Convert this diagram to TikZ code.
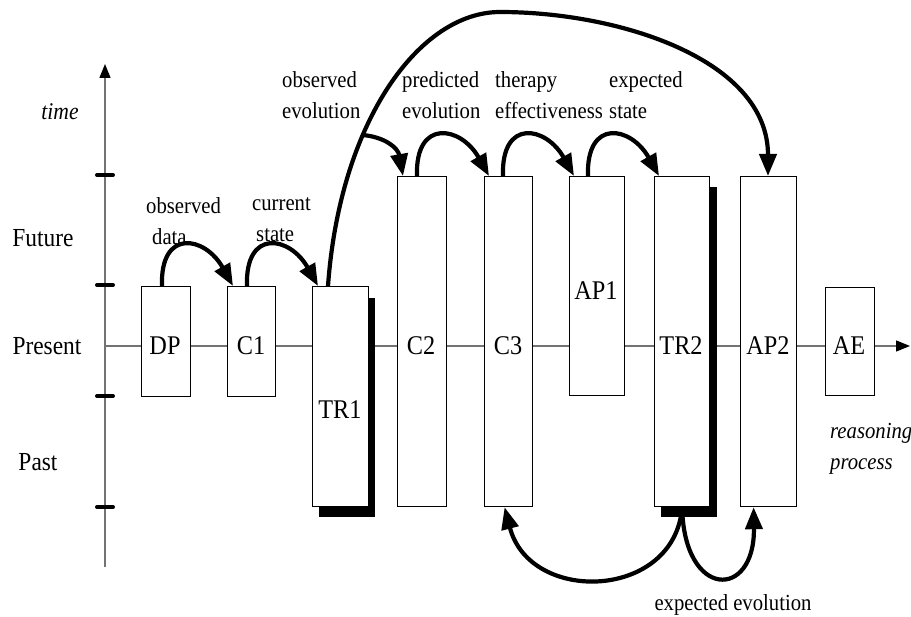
\documentclass[tikz,border=0pt]{standalone}
\usepackage{fontspec}
\setmainfont{Liberation Serif}[FakeStretch=0.9]
\usetikzlibrary{arrows.meta,calc}
\begin{document}
\begin{tikzpicture}[x=1pt,y=-1pt,
  box/.style={draw=black,line width=1.2pt,fill=white,inner sep=0pt,anchor=north west},
  shadowbox/.style={fill=black,draw=none,inner sep=0pt,anchor=north west},
  boxtext/.style={inner sep=0pt,font=\fontsize{27}{30}\selectfont},
  lbl/.style={inner sep=0pt,align=left,anchor=west,font=\fontsize{23}{31}\selectfont},
  axislbl/.style={inner sep=0pt,font=\fontsize{26}{30}\selectfont},
  flow/.style={line width=4.2pt,-{Triangle[length=22pt,width=17pt]}},
  grayline/.style={draw=black!55,line width=1.4pt,-{Triangle[length=14pt,width=11pt,fill=black,color=black]}},
  ticmark/.style={line width=4pt,line cap=round}
]
\useasboundingbox (0,0) rectangle (911,617);
% axes
\coordinate (axb) at (105,567);
\coordinate (axt) at (105,64);
\coordinate (h0) at (105,346);
\coordinate (h1) at (910,346);
\draw[grayline] (axb) -- (axt);
\draw[grayline] (h0) -- (h1);
\foreach \yy in {175,285,396,507} \draw[ticmark] (97,\yy) -- (113,\yy);
% axis labels
\node[axislbl,font=\fontsize{24}{28}\selectfont\itshape] (ltime) at (60,112) {time};
\node[axislbl] (lfut) at (43,238) {Future};
\node[axislbl] (lpres) at (47,346) {Present};
\node[axislbl] (lpast) at (38,462) {Past};
% shadows
\node[shadowbox,minimum width=56pt,minimum height=219pt] (TR1s) at (319,298) {};
\node[shadowbox,minimum width=56pt,minimum height=330pt] (TR2s) at (661,187) {};
% boxes
\node[box,minimum width=49pt,minimum height=110pt] (DP) at (141,286) {};
\node[box,minimum width=48pt,minimum height=110pt] (C1) at (227,286) {};
\node[box,minimum width=56pt,minimum height=220pt] (TR1) at (312,286) {};
\node[box,minimum width=49pt,minimum height=330pt] (C2) at (397,176) {};
\node[box,minimum width=48pt,minimum height=330pt] (C3) at (484,176) {};
\node[box,minimum width=55pt,minimum height=219pt] (AP1) at (569,176) {};
\node[box,minimum width=55pt,minimum height=330pt] (TR2) at (654,176) {};
\node[box,minimum width=56pt,minimum height=330pt] (AP2) at (740,176) {};
\node[box,minimum width=49pt,minimum height=108pt] (AE) at (825,287) {};
% box texts
\node[boxtext] (tDP) at (165,346) {DP};
\node[boxtext] (tC1) at (251,346) {C1};
\node[boxtext] (tTR1) at (340,410) {TR1};
\node[boxtext] (tC2) at (421,346) {C2};
\node[boxtext] (tC3) at (508,346) {C3};
\node[boxtext] (tAP1) at (596,291) {AP1};
\node[boxtext] (tTR2) at (681,346) {TR2};
\node[boxtext] (tAP2) at (768,346) {AP2};
\node[boxtext] (tAE) at (849,346) {AE};
% arrow labels
\node[lbl] (lobsdata) at (146,221) {observed\\\hspace*{6pt}data};
\node[lbl] (lcurstate) at (252,220) {current\\\hspace*{4pt}state};
\node[lbl] (lobsevol) at (282,95) {observed\\evolution};
\node[lbl] (lpredevol) at (402,95) {predicted\\evolution};
\node[lbl] (ltherapy) at (495,95) {therapy\\effectiveness};
\node[lbl] (lexpstate) at (609,95) {expected\\state};
\node[lbl,font=\fontsize{23}{31}\selectfont\itshape] (lreason) at (830,449) {reasoning\\process};
\node[inner sep=0pt,font=\fontsize{23}{28}\selectfont] (lexpevol) at (733,605) {expected evolution};
% top arrows
\draw[flow] ($(DP.north west)+(21,0)$) .. controls +(-2,-58) and +(-28,-50) .. ($(C1.north west)+(6,0)$);
\draw[flow] ($(C1.north west)+(20,0)$) .. controls +(-2,-58) and +(-28,-50) .. ($(TR1.north west)+(6,0)$);
\coordinate (peak) at (500,12);
\coordinate (br) at (362.6,135);
\draw[flow] ($(TR1.north west)+(16,0)$) .. controls (340,120) and (420,12) .. (peak)
   .. controls (620,12) and (768,60) .. ($(AP2.north west)+(28,0)$);
\draw[flow] (br) .. controls (385,137) and (398,148) .. ($(C2.north west)+(6,0)$);
\draw[flow] ($(C2.north west)+(20,0)$) .. controls +(-2,-58) and +(-28,-50) .. ($(C3.north west)+(5,0)$);
\draw[flow] ($(C3.north west)+(19,0)$) .. controls +(-2,-58) and +(-28,-50) .. ($(AP1.north west)+(5,0)$);
\draw[flow] ($(AP1.north west)+(19,0)$) .. controls +(-2,-58) and +(-28,-50) .. ($(TR2.north west)+(5,0)$);
% bottom arrows
\draw[flow] (TR2.south) .. controls (675,600) and (530,605) .. ($(C3.south)+(-4,0)$);
\draw[flow] (TR2.south) .. controls (684,600) and (755,600) .. ($(AP2.south)+(-15,0)$);
\end{tikzpicture}
\end{document}
